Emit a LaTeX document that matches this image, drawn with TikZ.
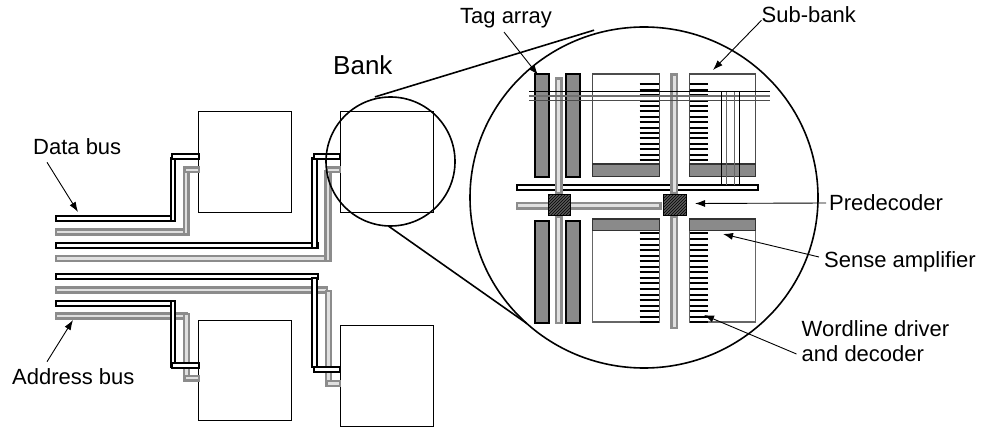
\documentclass[tikz,border=0pt]{standalone}
\usepackage{fontspec}
\setmainfont{Liberation Sans}
\usetikzlibrary{positioning,patterns,arrows.meta,shapes.geometric}
\definecolor{BusGray}{HTML}{8C8C8C}
\definecolor{CellGray}{HTML}{8A8A8A}
\definecolor{EdgeGray}{HTML}{666666}
\tikzset{
  lbl/.style={inner sep=0pt,font=\fontsize{22}{25}\selectfont,align=left},
  bankbox/.style={draw=black,line width=1pt,anchor=north west,inner sep=0pt,outer sep=0pt},
  lens/.style={draw=black,line width=1.6pt,ellipse,inner sep=0pt,outer sep=0pt},
  zoomline/.style={draw=black,line width=1.6pt},
  pointer/.style={draw=black,line width=0.9pt,-{Latex[length=10pt,width=7pt]}},
  databus/.style={draw=black,line width=2pt,fill=white},
  addrbus/.style={draw=BusGray,line width=2.1pt,fill=black!12},
  tagcell/.style={draw=black,line width=2pt,fill=CellGray},
  subcell/.style={draw=EdgeGray,line width=1.2pt},
  senseband/.style={draw=black!80,line width=1.2pt,fill=CellGray},
  predec/.style={draw=black,line width=1pt,fill=black!65,postaction={pattern=north east lines}},
  wordline/.style={line width=2pt,draw=black}
}
\begin{document}
\begin{tikzpicture}[x=1pt,y=-1pt]
  \useasboundingbox (0,0) rectangle (981,427);

  % banks
  \node[bankbox,minimum width=93pt,minimum height=101pt] (bankA) at (198.3,112) {};
  \node[bankbox,minimum width=93pt,minimum height=101pt] (bankB) at (340,112) {};
  \node[bankbox,minimum width=93pt,minimum height=100pt] (bankC) at (198.3,320.7) {};
  \node[bankbox,minimum width=93pt,minimum height=101.5pt] (bankD) at (340,325) {};

  % address buses
  \foreach \xa/\ya/\xb/\yb in {56/229.5/188/234.5, 184/171/188.5/234.5, 184.5/167.5/198.6/172,
    56/256/330.5/261, 325.5/171/330.5/261, 327/167.5/340/172,
    56/287.5/327/292.5, 326/291/331/386, 326.5/381/340/386,
    56/313.5/187/318.5, 184/314/189/380.5, 184.5/376/198.6/380.5}
    \draw[addrbus] (\xa,\ya) rectangle (\xb,\yb);

  % data buses
  \foreach \xa/\ya/\xb/\yb in {56/216.5/174.5/221.5, 170.5/158.5/175/221.5, 172/154.5/198.6/159,
    56/243/317.5/248, 312/158.5/317/248, 313.5/154.5/340/159,
    56/273.8/318/279, 312/278/317/366.7, 313.5/367/340/372,
    56/301/175/305.5, 170.5/301/175/367, 171.8/363/198.6/367.5}
    \draw[databus] (\xa,\ya) rectangle (\xb,\yb);

  % zoom circles
  \node[lens,minimum width=129pt,minimum height=129pt] (smallLens) at (390.5,161.5) {};
  \node[lens,minimum width=348pt,minimum height=341pt] (bigLens) at (644,197.5) {};
  \draw[zoomline] ([shift={(0,-2)}]smallLens.104) -- ([shift={(0,-4)}]bigLens.107);
  \draw[zoomline] (smallLens.268) -- (bigLens.227);

  % tag arrays
  \foreach \xa in {535,566}{
    \draw[tagcell] (\xa,74.5) rectangle (\xa+14,177);
    \draw[tagcell] (\xa,221) rectangle (\xa+14,323);
  }

  % sub-banks
  \foreach \xa in {592.8,689.5}{
    \draw[subcell,draw=black!70] (\xa,74) rectangle (\xa+66.3,176.5);
    \draw[subcell] (\xa,219) rectangle (\xa+66.3,322);
    \draw[senseband] (\xa,164) rectangle (\xa+66.3,176.5);
    \draw[senseband] (\xa,219) rectangle (\xa+66.3,230.5);
  }

  % wordline drivers
  \foreach \ya in {84.5,89.9,...,160.5}{
    \draw[wordline] (639.5,\ya) -- (658.5,\ya);
    \draw[wordline] (689.5,\ya) -- (707.5,\ya);
  }
  \foreach \ya in {233.5,239.05,...,322.5}{
    \draw[wordline] (639.5,\ya) -- (658.5,\ya);
    \draw[wordline] (689.5,\ya) -- (707.5,\ya);
  }

  % predecoder lines
  \draw[databus] (517,185.3) rectangle (758,190.5);
  \draw[addrbus] (517,202.8) rectangle (660.5,208.5);
  \foreach \xa/\ya/\yb in {556/78.5/193, 671.5/74.5/193, 556/217/323, 671.5/217/328}
    \draw[addrbus] (\xa,\ya) rectangle (\xa+5.5,\yb);
  \node[predec,anchor=north west,minimum width=22.5pt,minimum height=21pt,inner sep=0pt] (predA) at (547.5,194) {};
  \node[predec,anchor=north west,minimum width=23pt,minimum height=21pt,inner sep=0pt] (predB) at (662.5,194) {};

  % global lines over the upper half
  \draw[black,line width=1pt] (529,91.3) -- (770,91.3);
  \draw[BusGray!80!black,line width=1.4pt] (529,96) -- (770,96);
  \draw[black!70,line width=1.2pt] (529,100.3) -- (770,100.3);
  \foreach \xa/\col in {721.8/black,726.2/EdgeGray,734.8/EdgeGray,739.3/black}
    \draw[\col,line width=1.1pt] (\xa,92.5) -- (\xa,185);

  % labels
  \node[lbl,font=\fontsize{26}{30}\selectfont,anchor=west] (bankLabel) at (333,65) {Bank};
  \node[lbl,anchor=west] (tagLabel) at (460,18) {Tag array};
  \node[lbl,anchor=west] (subLabel) at (761.5,15) {Sub-bank};
  \node[lbl,anchor=west] (preLabel) at (829,203) {Predecoder};
  \node[lbl,anchor=west] (senseLabel) at (824,262) {Sense amplifier};
  \node[lbl,anchor=west] (wordLabel) at (801.5,341.5) {Wordline driver\\and decoder};
  \node[lbl,anchor=west] (dataLabel) at (33,147) {Data bus};
  \node[lbl,anchor=west] (addrLabel) at (12,377) {Address bus};

  % pointers
  \coordinate (tagTip) at (538,75);
  \coordinate (subTip) at (713,70);
  \coordinate (preTip) at (695,203.5);
  \coordinate (senseTip) at (723,234);
  \coordinate (wordTip) at (704,315);
  \coordinate (dataTip) at (78,212);
  \coordinate (addrTip) at (73,320);
  \draw[pointer] ([shift={(44,4)}]tagLabel.south west) -- (tagTip);
  \draw[pointer] ([shift={(0,-3)}]subLabel.south west) -- (subTip);
  \draw[pointer] ([shift={(-3,0)}]preLabel.west) -- (preTip);
  \draw[pointer] ([shift={(-5,-5)}]senseLabel.west) -- (senseTip);
  \draw[pointer] ([shift={(-5,12.5)}]wordLabel.west) -- (wordTip);
  \draw[pointer] ([shift={(14,7)}]dataLabel.south west) -- (dataTip);
  \draw[pointer] ([shift={(35,-7)}]addrLabel.north west) -- (addrTip);
\end{tikzpicture}
\end{document}
